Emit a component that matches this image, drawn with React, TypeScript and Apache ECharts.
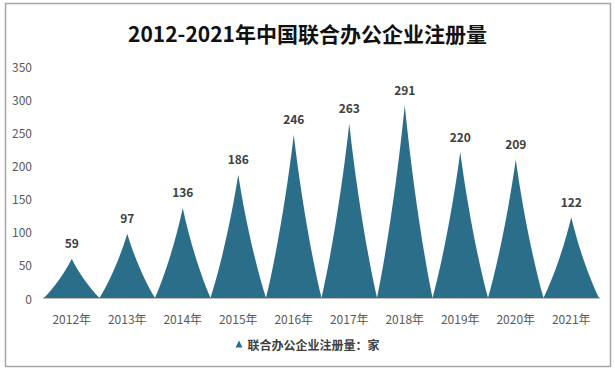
import React, { useEffect, useRef } from "react";
import * as echarts from "echarts";

const categories = ["2012年", "2013年", "2014年", "2015年", "2016年", "2017年", "2018年", "2019年", "2020年", "2021年"];
const values = [59, 97, 136, 186, 246, 263, 291, 220, 209, 122];
const seriesName = "联合办公企业注册量：家";
const titleText = "2012-2021年中国联合办公企业注册量";

const spike = "path://M0,10 C1.8,7.5 3.8,3.5 5,0 C6.2,3.5 8.2,7.5 10,10 Z";

export default function App() {
  const ref = useRef<HTMLDivElement>(null);
  useEffect(() => {
    document.body.style.margin = "0";
    const chart = echarts.init(ref.current!, null, { renderer: "svg" });
    chart.setOption({
      animation: false,
      backgroundColor: "#ffffff",
      textStyle: { fontFamily: "Noto Sans CJK SC, sans-serif" },
      title: {
        text: titleText,
        left: "center",
        top: 17,
        textStyle: { fontSize: 21, fontWeight: "bold", color: "#111111" },
      },
      graphic: [
        {
          type: "rect",
          shape: { x: 5.5, y: 3.5, width: 605, height: 363 },
          style: { fill: "none", stroke: "#a6a6a6", lineWidth: 1.5 },
          silent: true,
        },
      ],
      legend: {
        bottom: 14,
        left: "center",
        icon: "triangle",
        itemWidth: 7,
        itemHeight: 7,
        itemGap: 4,
        textStyle: { fontSize: 12, fontWeight: "bold", color: "#404040" },
        data: [seriesName],
      },
      grid: { left: 44, right: 16, top: 66, bottom: 71, containLabel: false },
      xAxis: {
        type: "category",
        data: categories,
        axisLine: { lineStyle: { color: "#bfbfbf", width: 2 } },
        axisTick: { show: false },
        axisLabel: { color: "#595959", fontSize: 12, margin: 14 },
      },
      yAxis: {
        type: "value",
        min: 0,
        max: 350,
        interval: 50,
        axisLine: { show: false },
        axisTick: { show: false },
        splitLine: { show: false },
        axisLabel: { color: "#595959", fontSize: 12, margin: 12 },
      },
      series: [
        {
          name: seriesName,
          type: "pictorialBar",
          symbol: spike,
          barCategoryGap: "0%",
          symbolSize: ["100%", "100%"],
          itemStyle: { color: "#2a6e8a" },
          label: {
            show: true,
            position: "top",
            distance: 10,
            color: "#404040",
            fontSize: 12,
            fontWeight: "bold",
          },
          data: values,
        },
      ],
    });
    return () => chart.dispose();
  }, []);
  return <div ref={ref} style={{ width: 615, height: 369, position: "absolute", left: 0, top: 0 }} />;
}
